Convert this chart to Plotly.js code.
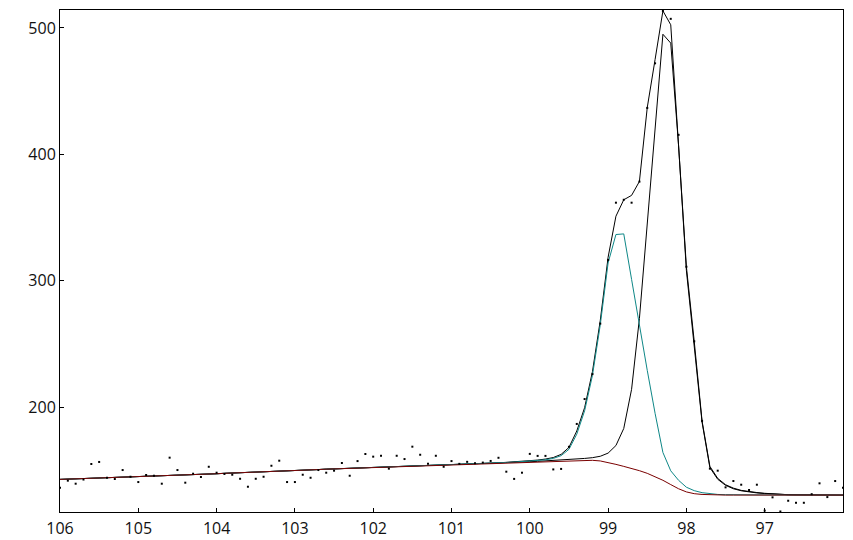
<!DOCTYPE html>
<html>
<head>
<meta charset="utf-8">
<script src="https://cdn.plot.ly/plotly-3.0.1.min.js"></script>
<style>html,body{margin:0;padding:0;background:#fff;}#chart{width:853px;height:540px;}</style>
</head>
<body>
<div id="chart"></div>
<script>
// Binding energy (eV), one value per channel
var energy = [
106.0,105.9,105.8,105.7,105.6,105.5,105.4,105.3,105.2,105.1,
105.0,104.9,104.8,104.7,104.6,104.5,104.4,104.3,104.2,104.1,
104.0,103.9,103.8,103.7,103.6,103.5,103.4,103.3,103.2,103.1,
103.0,102.9,102.8,102.7,102.6,102.5,102.4,102.3,102.2,102.1,
102.0,101.9,101.8,101.7,101.6,101.5,101.4,101.3,101.2,101.1,
101.0,100.9,100.8,100.7,100.6,100.5,100.4,100.3,100.2,100.1,
100.0,99.9,99.8,99.7,99.6,99.5,99.4,99.3,99.2,99.1,
99.0,98.9,98.8,98.7,98.6,98.5,98.4,98.3,98.2,98.1,
98.0,97.9,97.8,97.7,97.6,97.5,97.4,97.3,97.2,97.1,
97.0,96.9,96.8,96.7,96.6,96.5,96.4,96.3,96.2,96.1,
96.0];

// Measured counts (dots)
var counts = [
136.1,141.7,139.3,142.6,154.9,156.5,144.0,143.0,150.1,144.8,
140.6,146.2,145.6,139.3,159.9,150.1,140.1,147.2,144.6,152.7,
148.0,147.0,146.4,143.2,136.9,143.2,144.8,153.5,157.5,140.6,
140.6,146.4,144.0,150.1,148.0,149.6,155.7,145.6,157.2,162.8,
160.7,161.4,151.2,161.4,158.8,168.6,162.2,155.1,161.4,152.7,
157.2,155.0,156.6,155.5,156.0,157.3,159.8,148.8,143.1,148.0,
162.9,161.3,161.3,150.6,151.0,168.5,186.6,206.3,226.0,266.0,
316.4,361.7,364.0,361.7,378.4,436.7,472.0,513.5,507.2,415.4,
311.0,252.0,189.0,151.2,149.6,136.4,141.4,138.5,134.3,138.5,
118.0,128.5,117.3,125.8,124.2,124.2,131.0,139.6,128.7,141.4,
136.1];

// Shirley background (dark red)
var background = [
142.7,142.9,143.1,143.3,143.5,143.7,143.9,144.1,144.4,144.6,
144.8,145.0,145.3,145.5,145.7,146.0,146.2,146.5,146.7,147.0,
147.2,147.5,147.7,148.0,148.2,148.5,148.7,149.0,149.2,149.5,
149.8,150.0,150.3,150.5,150.8,151.0,151.3,151.5,151.8,152.0,
152.3,152.5,152.7,153.0,153.2,153.5,153.7,153.9,154.2,154.4,
154.6,154.8,155.0,155.2,155.4,155.6,155.8,156.0,156.2,156.4,
156.5,156.7,156.9,157.1,157.3,157.5,157.7,157.8,157.8,157.3,
156.2,154.6,153.0,151.4,149.6,147.5,145.0,142.0,138.6,135.3,
132.8,131.4,130.8,130.5,130.4,130.3,130.3,130.3,130.3,130.3,
130.3,130.3,130.3,130.3,130.3,130.3,130.3,130.3,130.3,130.3,
130.3];

// Component 1 (teal)
var component1 = [
142.7,142.9,143.1,143.3,143.5,143.7,143.9,144.1,144.4,144.6,
144.8,145.0,145.3,145.5,145.7,146.0,146.2,146.5,146.7,147.0,
147.2,147.5,147.7,148.0,148.2,148.5,148.7,149.0,149.2,149.5,
149.8,150.0,150.3,150.5,150.8,151.0,151.3,151.5,151.8,152.0,
152.3,152.5,152.7,153.0,153.2,153.5,153.7,153.9,154.2,154.4,
154.6,154.8,155.0,155.2,155.4,155.6,155.8,156.1,156.4,156.7,
157.0,157.5,158.2,159.3,161.5,166.5,178.5,197.0,225.0,265.0,
314.0,336.5,337.0,301.0,264.0,229.0,195.0,164.0,149.5,142.0,
136.5,133.8,132.2,131.3,130.8,130.6,130.5,130.4,130.3,130.3,
130.3,130.3,130.3,130.3,130.3,130.3,130.3,130.3,130.3,130.3,
130.3];

// Component 2 (black)
var component2 = [
142.7,142.9,143.1,143.3,143.5,143.7,143.9,144.1,144.4,144.6,
144.8,145.0,145.3,145.5,145.7,146.0,146.2,146.5,146.7,147.0,
147.2,147.5,147.7,148.0,148.2,148.5,148.7,149.0,149.2,149.5,
149.8,150.0,150.3,150.5,150.8,151.0,151.3,151.5,151.8,152.0,
152.3,152.5,152.7,153.0,153.2,153.5,153.7,153.9,154.2,154.4,
154.6,154.8,155.0,155.2,155.4,155.6,155.8,156.0,156.2,156.4,
156.7,157.0,157.3,157.6,158.0,158.4,158.8,159.3,159.9,161.0,
163.5,169.5,183.0,214.0,270.0,345.0,422.0,495.0,488.0,407.0,
308.0,250.5,188.0,152.0,142.8,138.0,135.3,133.7,132.7,132.0,
131.5,131.1,130.8,130.6,130.5,130.4,130.3,130.3,130.3,130.3,
130.3];

// Fit envelope (black)
var envelope = [
142.7,142.9,143.1,143.3,143.5,143.7,143.9,144.1,144.4,144.6,
144.8,145.0,145.3,145.5,145.7,146.0,146.2,146.5,146.7,147.0,
147.2,147.5,147.7,148.0,148.2,148.5,148.7,149.0,149.2,149.5,
149.8,150.0,150.3,150.5,150.8,151.0,151.3,151.5,151.8,152.0,
152.3,152.5,152.7,153.0,153.2,153.5,153.7,153.9,154.2,154.4,
154.6,154.8,155.0,155.2,155.4,155.6,155.8,156.2,156.6,157.0,
157.4,158.0,158.8,160.0,162.5,168.0,181.0,199.5,228.0,268.5,
318.5,351.0,364.0,367.5,378.5,437.0,475.0,513.5,502.5,408.0,
311.0,252.0,189.0,153.0,143.5,138.5,135.8,134.0,133.0,132.3,
131.7,131.2,130.9,130.6,130.5,130.4,130.3,130.3,130.3,130.3,
130.3];

var xTicks = [106, 105, 104, 103, 102, 101, 100, 99, 98, 97];
var xTickText = ['106', '105', '104', '103', '102', '101', '100', '99', '98', '97'];
var yTicks = [200, 300, 400, 500];
var yTickText = ['200', '300', '400', '500'];

function line(y, color) {
  return {x: energy, y: y, type: 'scatter', mode: 'lines',
          line: {color: color, width: 1}, hoverinfo: 'skip'};
}

var traces = [
  line(envelope, '#000000'),
  line(component2, '#000000'),
  line(component1, '#0e8787'),
  line(background, '#7a0000'),
  {x: energy, y: counts, type: 'scatter', mode: 'markers',
   marker: {symbol: 'square', size: 2, color: '#000000', line: {width: 0}}, hoverinfo: 'skip'}
];

var tickFont = {family: 'Open Sans, Noto Sans, sans-serif', size: 16, color: '#111111'};
var layout = {
  width: 853, height: 540,
  margin: {l: 60, r: 10, t: 10, b: 28, pad: 0},
  paper_bgcolor: '#ffffff', plot_bgcolor: '#ffffff',
  showlegend: false,
  xaxis: {range: [106, 96], tickmode: 'array', tickvals: xTicks, ticktext: xTickText,
          ticks: 'inside', ticklen: 4, tickcolor: '#000', tickwidth: 1,
          ticklabelstandoff: 2,
          showline: true, mirror: true, linecolor: '#000', linewidth: 1,
          showgrid: false, zeroline: false, tickfont: tickFont},
  yaxis: {range: [116.9, 514.2], tickmode: 'array', tickvals: yTicks, ticktext: yTickText,
          ticks: 'inside', ticklen: 4, tickcolor: '#000', tickwidth: 1,
          showline: true, mirror: true, linecolor: '#000', linewidth: 1,
          showgrid: false, zeroline: false, tickfont: tickFont}
};

Plotly.newPlot('chart', traces, layout, {staticPlot: true, displayModeBar: false});
</script>
</body>
</html>
